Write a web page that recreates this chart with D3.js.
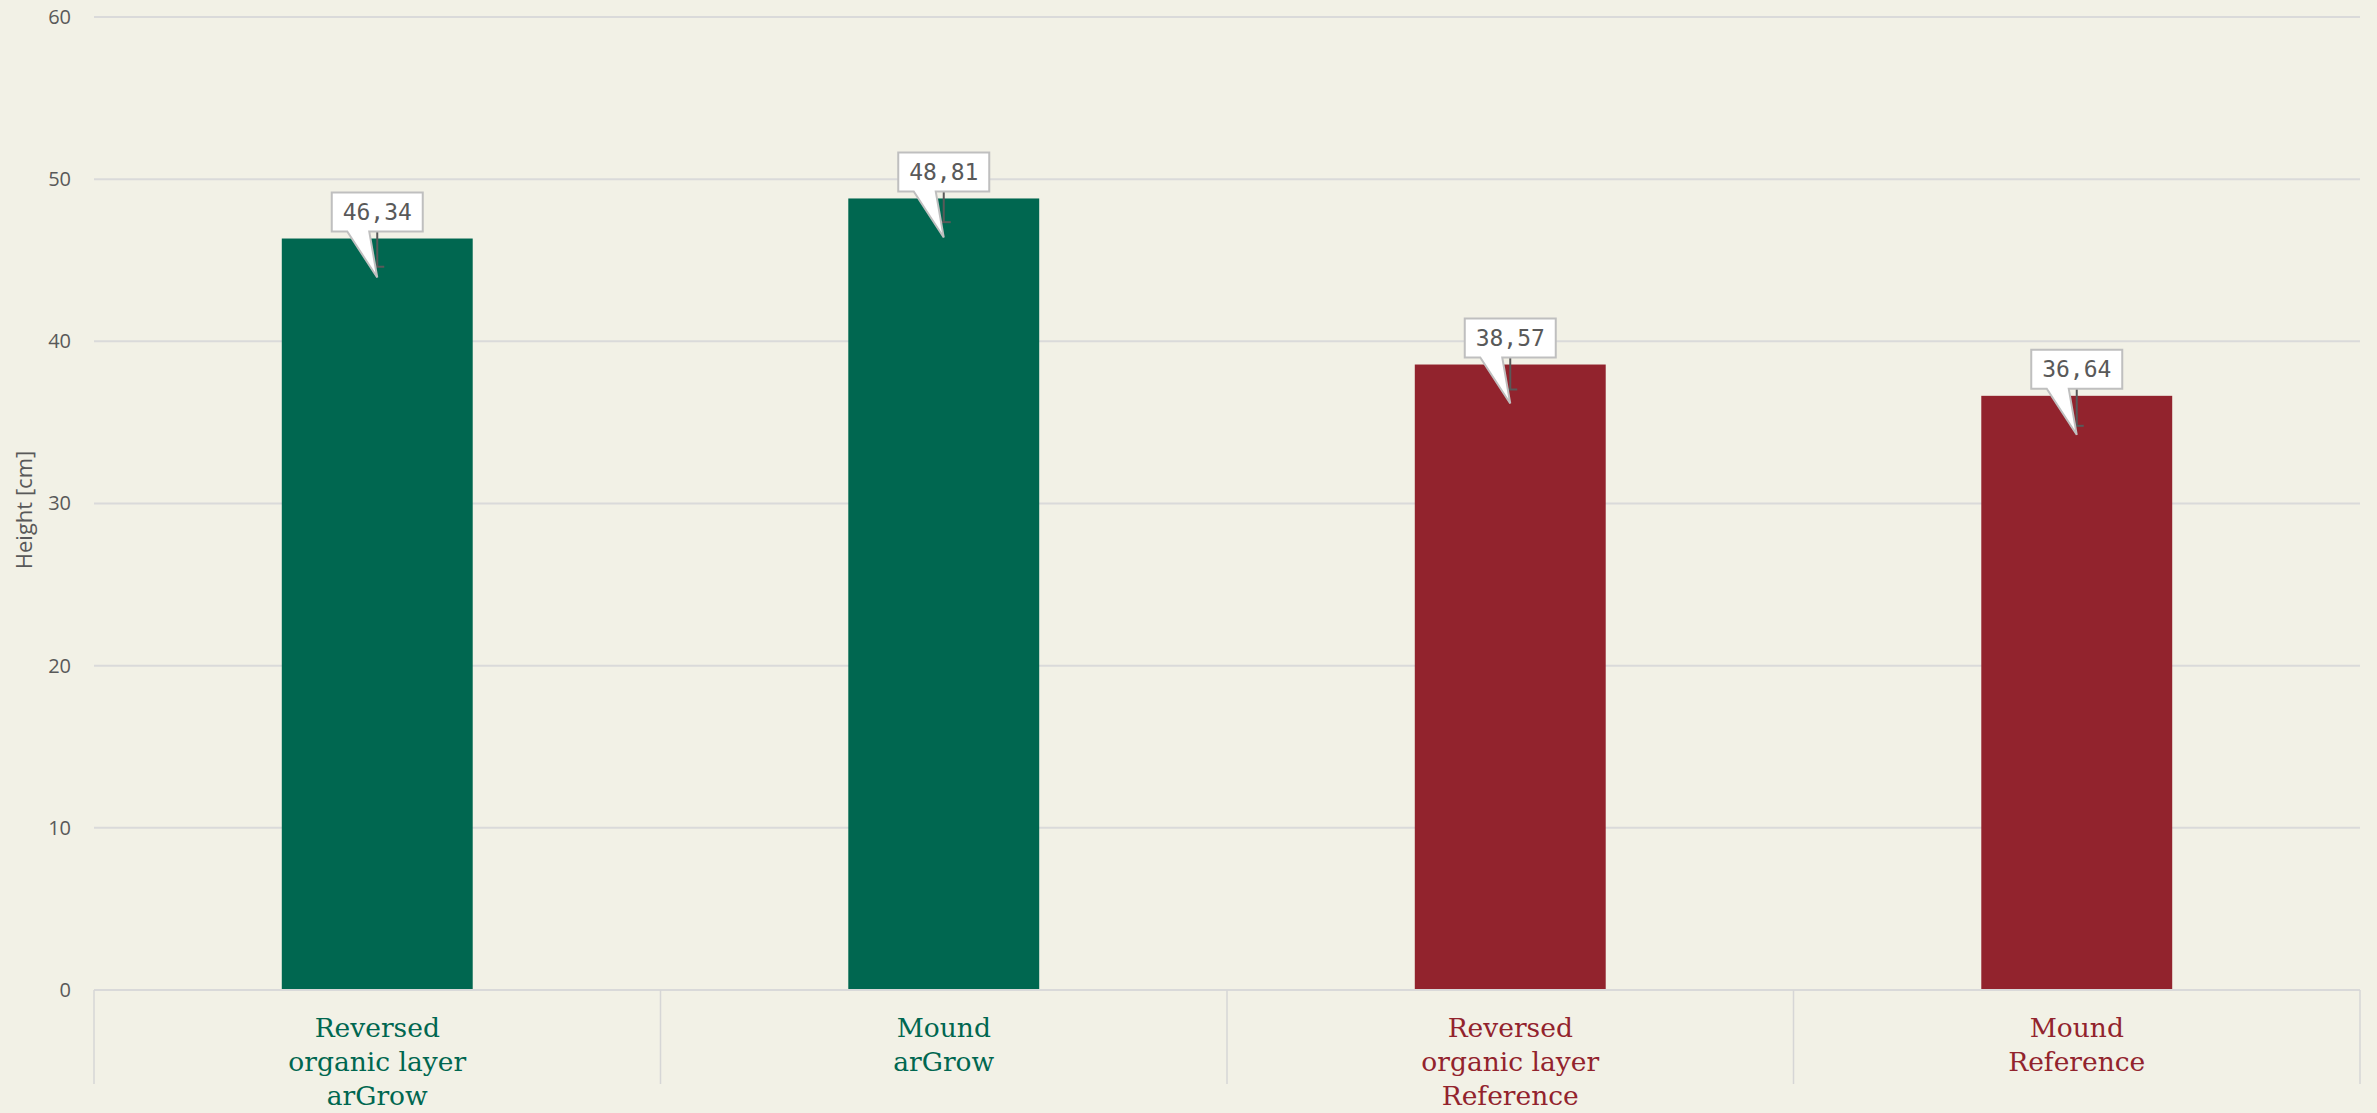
<!DOCTYPE html>
<html>
<head>
<meta charset="utf-8">
<script src="https://cdn.jsdelivr.net/npm/d3@7"></script>
<style>
  html, body { margin: 0; padding: 0; background: #f2f1e6; }
  svg { display: block; }
</style>
</head>
<body>
<div id="chart"></div>
<script>
// Chart data
var categories = ['Reversed organic layer arGrow', 'Mound arGrow', 'Reversed organic layer Reference', 'Mound Reference'];
var categoryLines = [['Reversed', 'organic layer', 'arGrow'], ['Mound', 'arGrow'], ['Reversed', 'organic layer', 'Reference'], ['Mound', 'Reference']];
var heights = [46.34, 48.81, 38.57, 36.64];
var errors = [1.74, 1.46, 1.54, 1.85];
var valueLabels = ['46,34', '48,81', '38,57', '36,64'];
var groups = ['arGrow', 'arGrow', 'Reference', 'Reference'];
var yTicks = [0, 10, 20, 30, 40, 50, 60];

var colors = { arGrow: '#006750', Reference: '#92232d' };

drawChart();

function drawChart() {
	var W = 2377, H = 1113;
	var margin = { top: 17, right: 17, bottom: 123, left: 94 },
		width = W - margin.left - margin.right,
		height = H - margin.top - margin.bottom;

	var svg = d3.select('#chart').append('svg')
		.attr('width', W)
		.attr('height', H);

	svg.append('rect').attr('width', W).attr('height', H).attr('fill', '#f2f1e6');

	var g = svg.append('g')
		.attr('transform', 'translate(' + margin.left + ',' + margin.top + ')');

	// category slots (for dividers + labels)
	var xCat = d3.scaleBand().domain(categories).range([0, width]).padding(0);
	// bars
	var xBar = d3.scaleBand().domain(categories).range([0, width])
		.paddingInner(0.663).paddingOuter(0.3315);

	var y = d3.scaleLinear().domain([0, 60]).range([height, 0]);

	// gridlines
	g.selectAll('line.grid')
		.data(yTicks.filter(function(d) { return d > 0; }))
		.enter().append('line')
		.attr('class', 'grid')
		.attr('x1', 0).attr('x2', width)
		.attr('y1', function(d) { return y(d); })
		.attr('y2', function(d) { return y(d); })
		.attr('stroke', '#dadada')
		.attr('stroke-width', 2);

	// y axis labels
	var yAxis = d3.axisLeft(y).tickValues(yTicks).tickSize(0).tickPadding(23);
	var ya = g.append('g').call(yAxis);
	ya.select('.domain').remove();
	ya.selectAll('text')
		.attr('fill', '#595959')
		.style('font-family', '"Open Sans", sans-serif')
		.style('font-size', '20px');

	// y title
	svg.append('text')
		.attr('transform', 'translate(32,510) rotate(-90)')
		.attr('text-anchor', 'middle')
		.attr('fill', '#595959')
		.style('font-family', '"Open Sans", sans-serif')
		.style('font-size', '22px')
		.text('Height [cm]');

	// bars
	g.selectAll('rect.bar')
		.data(categories)
		.enter().append('rect')
		.attr('class', 'bar')
		.attr('x', function(d) { return xBar(d); })
		.attr('width', xBar.bandwidth())
		.attr('y', function(d, i) { return y(heights[i]); })
		.attr('height', function(d, i) { return height - y(heights[i]); })
		.attr('fill', function(d, i) { return colors[groups[i]]; });

	// x axis baseline + dividers
	g.append('line')
		.attr('x1', 0).attr('x2', width)
		.attr('y1', height).attr('y2', height)
		.attr('stroke', '#d9d9d9').attr('stroke-width', 2);

	var dividers = categories.map(function(d) { return xCat(d); }).concat([width]);
	g.selectAll('line.div')
		.data(dividers)
		.enter().append('line')
		.attr('class', 'div')
		.attr('x1', function(d) { return d; }).attr('x2', function(d) { return d; })
		.attr('y1', height).attr('y2', height + 94)
		.attr('stroke', '#d6d6d6').attr('stroke-width', 1.5);

	// category labels
	categories.forEach(function(c, i) {
		var t = g.append('text')
			.attr('x', xCat(c) + xCat.bandwidth() / 2)
			.attr('y', height + 47)
			.attr('text-anchor', 'middle')
			.attr('fill', colors[groups[i]])
			.style('font-family', '"DejaVu Serif", serif')
			.style('font-size', '26.5px');
		categoryLines[i].forEach(function(line, j) {
			t.append('tspan')
				.attr('x', xCat(c) + xCat.bandwidth() / 2)
				.attr('dy', j === 0 ? 0 : 34)
				.text(line);
		});
	});

	// error bars
	categories.forEach(function(c, i) {
		var cx = xBar(c) + xBar.bandwidth() / 2;
		var eg = g.append('g').attr('stroke', '#595959').attr('stroke-width', 2);
		eg.append('line')
			.attr('x1', cx).attr('x2', cx)
			.attr('y1', y(heights[i] + errors[i])).attr('y2', y(heights[i] - errors[i]));
		eg.append('line')
			.attr('x1', cx - 7).attr('x2', cx + 7)
			.attr('y1', y(heights[i] - errors[i])).attr('y2', y(heights[i] - errors[i]));
		eg.append('line')
			.attr('x1', cx - 7).attr('x2', cx + 7)
			.attr('y1', y(heights[i] + errors[i])).attr('y2', y(heights[i] + errors[i]));
	});

	// callout labels
	categories.forEach(function(c, i) {
		var cx = xBar(c) + xBar.bandwidth() / 2;
		var top = y(heights[i]);
		var bw = 91, bh = 39;
		var x0 = cx - bw / 2, x1 = cx + bw / 2;
		var yb = top - 7, yt = yb - bh;
		var tipY = top + 39;
		var p = d3.path();
		p.moveTo(x0, yt);
		p.lineTo(x1, yt);
		p.lineTo(x1, yb);
		p.lineTo(cx - 8, yb);
		p.lineTo(cx, tipY);
		p.lineTo(cx - 30, yb);
		p.lineTo(x0, yb);
		p.closePath();
		g.append('path')
			.attr('d', p.toString())
			.attr('fill', '#ffffff')
			.attr('stroke', '#bfbfbf')
			.attr('stroke-width', 2)
			.attr('stroke-linejoin', 'miter');
		g.append('text')
			.attr('x', cx)
			.attr('y', yt + bh / 2 + 8)
			.attr('text-anchor', 'middle')
			.attr('fill', '#595959')
			.style('font-family', '"DejaVu Sans Mono", monospace')
			.style('font-size', '23px')
			.text(valueLabels[i]);
	});
}
</script>
</body>
</html>
